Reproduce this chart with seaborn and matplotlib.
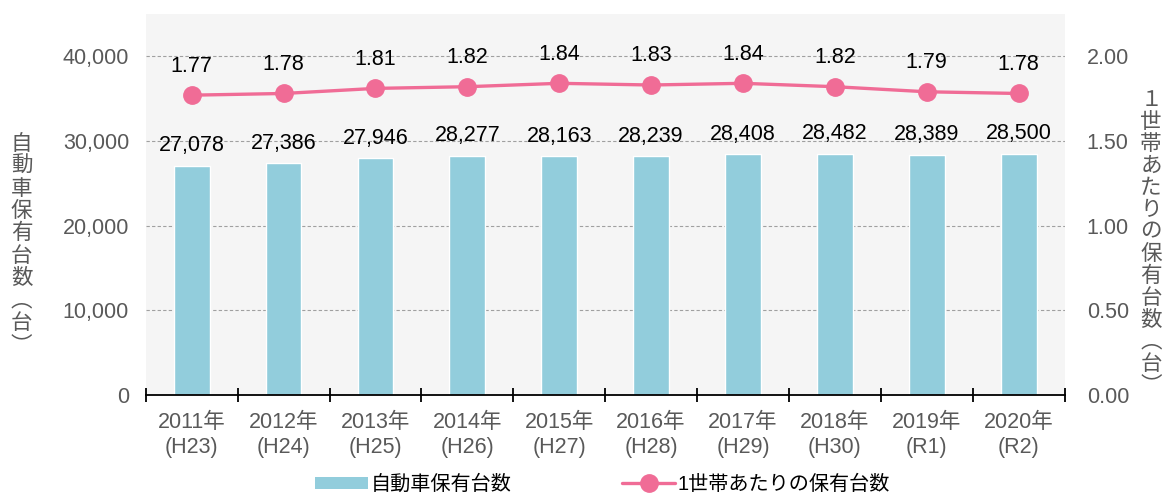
import numpy as np
import pandas as pd
import seaborn as sns
import matplotlib.pyplot as plt
from matplotlib.lines import Line2D
from matplotlib.patches import Patch

# データ
years = ['2011年\n(H23)', '2012年\n(H24)', '2013年\n(H25)', '2014年\n(H26)', '2015年\n(H27)',
         '2016年\n(H28)', '2017年\n(H29)', '2018年\n(H30)', '2019年\n(R1)', '2020年\n(R2)']
cars = [27078, 27386, 27946, 28277, 28163, 28239, 28408, 28482, 28389, 28500]
per_household = [1.77, 1.78, 1.81, 1.82, 1.84, 1.83, 1.84, 1.82, 1.79, 1.78]

bar_color = '#92cddc'
line_color = '#f06c96'
gray = '#595959'
fs = 15.5

sns.set_style('white')
plt.rcParams['font.family'] = ['Liberation Sans', 'Noto Sans CJK JP']

df = pd.DataFrame({'year': years, 'cars': cars, 'per': per_household})

fig, ax = plt.subplots(figsize=(11.66, 4.95), dpi=100)
fig.subplots_adjust(left=0.125, right=0.913, top=0.972, bottom=0.202)

sns.barplot(data=df, x='year', y='cars', color=bar_color, width=0.39, ax=ax, zorder=2, saturation=1)
ax.set_facecolor('#f5f5f5')
ax.set_ylim(0, 45000)
ax.set_xlim(-0.5, len(years) - 0.5)
ax.set_yticks([0, 10000, 20000, 30000, 40000])
ax.set_yticklabels([f'{v:,}' for v in [0, 10000, 20000, 30000, 40000]], color=gray, fontsize=fs)
ax.yaxis.grid(True, linestyle=(0, (3, 2)), color='#a0a0a0', linewidth=0.8, zorder=0)
ax.set_axisbelow(True)
ax.set_xlabel('')
ax.set_ylabel('自\n動\n車\n保\n有\n台\n数\n︵\n台\n︶', rotation=0, fontsize=fs, color=gray,
              linespacing=1.02, va='center', family='Noto Sans CJK JP')
ax.yaxis.set_label_coords(-0.135, 0.395)

# x軸の目盛り（カテゴリの境界）
ax.set_xticks(np.arange(len(years)))
ax.set_xticklabels(years, color=gray, fontsize=fs, linespacing=1.25)
ax.tick_params(axis='x', length=0, pad=12)
ax.set_xticks(np.arange(-0.5, len(years)), minor=True)
ax.tick_params(axis='x', which='minor', bottom=True, direction='inout', length=10, width=1.3,
               color='black')
ax.tick_params(axis='y', length=0, pad=12)
for s in ['top', 'right', 'left']:
    ax.spines[s].set_visible(False)
ax.spines['bottom'].set_color('black')
ax.spines['bottom'].set_linewidth(1.3)

for i, v in enumerate(cars):
    ax.text(i, v + 1100, f'{v:,}', ha='center', va='bottom', fontsize=fs, color='black', zorder=5)

# 右軸
ax2 = ax.twinx()
ax2.plot(np.arange(len(years)), per_household, color=line_color, linewidth=2.4, marker='o',
         markersize=12.5, zorder=4)
ax2.set_ylim(0, 2.25)
ax2.set_yticks([0, 0.5, 1.0, 1.5, 2.0])
ax2.set_yticklabels([f'{v:.2f}' for v in [0, 0.5, 1.0, 1.5, 2.0]], color=gray, fontsize=fs)
ax2.tick_params(axis='y', length=0, pad=16)
for s in ['top', 'right', 'left', 'bottom']:
    ax2.spines[s].set_visible(False)
for i, v in enumerate(per_household):
    ax2.text(i, v + 0.11, f'{v:.2f}', ha='center', va='bottom', fontsize=fs, color='black')
ax2.set_ylabel('１\n世\n帯\nあ\nた\nり\nの\n保\n有\n台\n数\n︵\n台\n︶', rotation=0, fontsize=fs,
               color=gray, linespacing=1.0, va='center', family='Noto Sans CJK JP')
ax2.yaxis.set_label_coords(1.094, 0.40)

handles = [Patch(facecolor=bar_color, edgecolor='none'),
           Line2D([0], [0], color=line_color, linewidth=2.4, marker='o', markersize=12.5)]
fig.legend(handles, ['自動車保有台数', '1世帯あたりの保有台数'], loc='lower center',
           bbox_to_anchor=(0.517, -0.035), ncol=2, frameon=False, fontsize=14.5,
           handlelength=2.6, handleheight=0.6, handletextpad=0.15, columnspacing=5.5,
           labelcolor='black')

plt.savefig('out.png', dpi=100)
